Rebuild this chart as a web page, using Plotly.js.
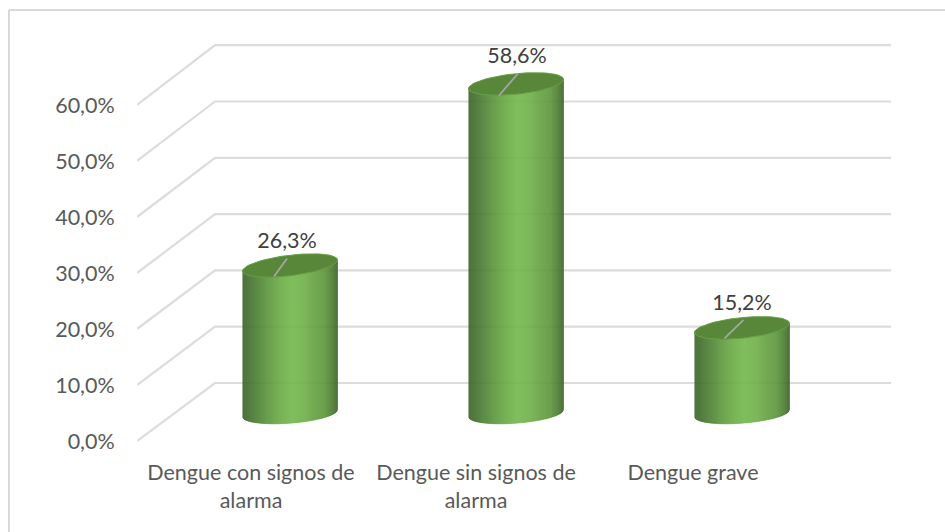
<!DOCTYPE html>
<html><head><meta charset="utf-8">
<script src="https://cdn.plot.ly/plotly-3.0.1.min.js"></script>
<style>html,body{margin:0;padding:0;background:#fff}</style></head>
<body><div id="chart" style="width:945px;height:532px"></div>
<script>
const categories = ['Dengue con signos de<br>alarma', 'Dengue sin signos de<br>alarma', 'Dengue grave'];
const values = [26.3, 58.6, 15.2];
const valueLabels = ['26,3%', '58,6%', '15,2%'];
const yTicks = [0, 10, 20, 30, 40, 50, 60];
const yTickLabels = ['0,0%', '10,0%', '20,0%', '30,0%', '40,0%', '50,0%', '60,0%'];

// layout constants (1 x-unit = 1 px, 5.6 px = 1 y-unit)
const PX = 5.6, Y0PX = 441, TOP = 30, BOT = 445, LEFT = 137, RIGHT = 891;
const toV = px => (Y0PX - px) / PX;
const dv = px => px / PX;
const tickPos = [251, 476, 693];
const barCx = [290, 516, 742];
const halfW = 47.5;
const baseV = toV(413.3);
const scaleV = 5.62 / PX;
const backOffset = dv(58);
const backScale = 5.63 / PX;
const wallX = 215;
const stops = [[0,'#3a6426'],[0.06,'#3f6c2a'],[0.15,'#4a7d31'],[0.27,'#5a953a'],[0.4,'#69aa43'],[0.52,'#72b64b'],[0.66,'#6eae47'],[0.73,'#66a342'],[0.86,'#5c953a'],[0.94,'#4a7b2f'],[1,'#3a6325']];
const topC = [5.5, 4.6, 4.6], botC = 3.5, topB = 10.3, botB = 9.9;
const leaders = [[-16, 11, -3, -7], [-17, 11.5, 2, -10.5], [-17.5, 10.5, 1.5, -8]];
const labelOff = [[-3, -22.5], [1, -26.5], [0, -23.5]];

function hex(c){return [1,3,5].map(i=>parseInt(c.substr(i,2),16));}
function shade(t){
  for(let i=1;i<stops.length;i++){ if(t<=stops[i][0]){
    const a=stops[i-1],b=stops[i],f=(t-a[0])/(b[0]-a[0]),A=hex(a[1]),B=hex(b[1]);
    return 'rgb('+A.map((v,k)=>Math.round(v+(B[k]-v)*f)).join(',')+')';
  }}
  return stops[stops.length-1][1];
}
const traces = [];
yTicks.forEach(v=>{
  const back = v*backScale + backOffset;
  traces.push({type:'scatter',mode:'lines',x:[LEFT,wallX,RIGHT],y:[v,back,back],
    line:{color:'#dcdcdc',width:2.2},hoverinfo:'skip',showlegend:false});
});
const N = 95;
const cy = (i,v) => baseV + v*scaleV;
function edgeY(center, dx, c, b, sign){
  const u = Math.max(-1,Math.min(1,dx/halfW));
  const s = Math.sqrt(1-u*u);
  return center + dv(c*u + sign*b*s);
}
for(let k=0;k<N;k++){
  const t0=k/N, t1=(k+1)/N;
  const dx0=-halfW+2*halfW*t0, dx1=-halfW+2*halfW*t1;
  const xs=[],ys=[];
  barCx.forEach((cx,i)=>{
    const top=cy(i,values[i]), bot=baseV;
    xs.push(cx+dx0,cx+dx1,cx+dx1,cx+dx0,null);
    ys.push(edgeY(top,dx0,topC[i],topB,0),edgeY(top,dx1,topC[i],topB,0),
            edgeY(bot,dx1,botC,botB,-1),edgeY(bot,dx0,botC,botB,-1),null);
  });
  const col=shade((t0+t1)/2);
  traces.push({type:'scatter',mode:'lines',x:xs,y:ys,fill:'toself',fillcolor:col,
    line:{color:col,width:0.6},hoverinfo:'skip',showlegend:false});
}
barCx.forEach((cx,i)=>{
  const xs=[],ys=[],top=cy(i,values[i]);
  for(let a=0;a<=72;a++){
    const th=a/72*2*Math.PI;
    xs.push(cx+halfW*Math.cos(th));
    ys.push(top+dv(topC[i]*Math.cos(th)+topB*Math.sin(th)));
  }
  traces.push({type:'scatter',mode:'lines',x:xs,y:ys,fill:'toself',fillcolor:'#588739',
    line:{color:'#67a043',width:1},hoverinfo:'skip',showlegend:false});
  const L=leaders[i];
  traces.push({type:'scatter',mode:'lines',x:[cx+L[0],cx+L[2]],y:[top-dv(L[1]),top-dv(L[3])],
    line:{color:'#a6a6a6',width:1.8},hoverinfo:'skip',showlegend:false});
});
traces.push({type:'scatter',mode:'text',
  x:barCx.map((cx,i)=>cx+labelOff[i][0]),
  y:values.map((v,i)=>cy(i,v)-dv(labelOff[i][1])),
  text:valueLabels,textposition:'middle center',
  textfont:{family:'Lato, Carlito, sans-serif',size:21.5,color:'#404040'},
  hoverinfo:'skip',showlegend:false,cliponaxis:false});

const font={family:'Lato, Carlito, sans-serif',size:21.5,color:'#595959'};
Plotly.newPlot('chart',traces,{
  width:945,height:532,showlegend:false,paper_bgcolor:'#fff',plot_bgcolor:'rgba(0,0,0,0)',
  margin:{l:LEFT,r:945-RIGHT,t:TOP,b:532-BOT,pad:0},
  xaxis:{range:[LEFT,RIGHT],tickmode:'array',tickvals:tickPos,ticktext:categories,showgrid:false,zeroline:false,showline:false,
    ticks:'outside',ticklen:8,tickcolor:'rgba(0,0,0,0)',tickfont:font,tickangle:0,fixedrange:true},
  yaxis:{range:[toV(BOT),toV(TOP)],tickmode:'array',tickvals:yTicks,ticktext:yTickLabels,showgrid:false,zeroline:false,showline:false,
    ticks:'outside',ticklen:17,tickcolor:'rgba(0,0,0,0)',tickfont:font,fixedrange:true},
  shapes:[{type:'line',xref:'paper',yref:'paper',layer:'below',x0:-(LEFT-9)/(RIGHT-LEFT),x1:(945-LEFT)/(RIGHT-LEFT),y0:(BOT-10)/(BOT-TOP),y1:(BOT-10)/(BOT-TOP),line:{color:'#d9d9d9',width:2}},
          {type:'line',xref:'paper',yref:'paper',layer:'below',x0:-(LEFT-9)/(RIGHT-LEFT),x1:-(LEFT-9)/(RIGHT-LEFT),y0:(BOT-10)/(BOT-TOP),y1:(BOT-532)/(BOT-TOP),line:{color:'#d9d9d9',width:2}}]
},{displayModeBar:false,staticPlot:true});
</script></body></html>
